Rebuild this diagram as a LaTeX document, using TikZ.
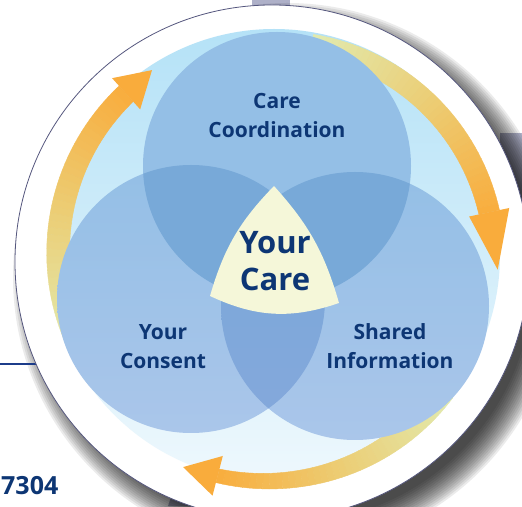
\documentclass[tikz,border=0pt]{standalone}
\usepackage{fontspec}
\setmainfont{Open Sans}
\usetikzlibrary{positioning,calc}
\definecolor{navy}{HTML}{0D3674}
\definecolor{ringline}{HTML}{55577E}
\definecolor{rule}{HTML}{1C3C8A}
\definecolor{barbg}{HTML}{AEB0C8}
\definecolor{skytop}{HTML}{B5E2F7}
\definecolor{skybottom}{HTML}{EEF8FD}
\definecolor{venn}{HTML}{94BFE6}
\definecolor{vennlow}{HTML}{AAC6EA}
\definecolor{lens}{HTML}{78A9D8}
\definecolor{lenslow}{HTML}{85A8DC}
\definecolor{cream}{HTML}{F5F7D9}
\definecolor{arrtail}{HTML}{E2EAAE}
\definecolor{arrmid}{HTML}{ECCD74}
\definecolor{arrhead}{HTML}{F9AC3C}

% curved arrow round the hub
% #1 tail angle, #2 head angle, #3 tip angle, #4 radius at tail,
% #5 radius at head, #6 half width at tail, #7 half width of head,
% #8 tip radius, #9 half width at head
\newcommand{\ringarrow}[9]{
  \foreach \i in {0,...,39}{
    \pgfmathsetmacro{\ta}{\i/40}
    \pgfmathsetmacro{\tb}{(\i+1)/40}
    \pgfmathsetmacro{\aa}{(#1)+((#2)-(#1))*\ta}
    \pgfmathsetmacro{\ab}{(#1)+((#2)-(#1))*\tb}
    \pgfmathsetmacro{\wa}{(#6)+((#9)-(#6))*\ta}
    \pgfmathsetmacro{\wb}{(#6)+((#9)-(#6))*\tb}
    \pgfmathsetmacro{\rai}{(#4)+((#5)-(#4))*\ta-\wa}
    \pgfmathsetmacro{\rao}{(#4)+((#5)-(#4))*\ta+\wa}
    \pgfmathsetmacro{\rbi}{(#4)+((#5)-(#4))*\tb-\wb}
    \pgfmathsetmacro{\rbo}{(#4)+((#5)-(#4))*\tb+\wb}
    \pgfmathtruncatemacro{\pc}{200*\ta}
    \ifnum\pc<100 \colorlet{seg}{arrmid!\pc!arrtail}
    \else \pgfmathtruncatemacro{\pd}{\pc-100}\colorlet{seg}{arrhead!\pd!arrmid}\fi
    \filldraw[seg, line width=0.4pt] (\aa:\rai) -- (\aa:\rao) -- (\ab:\rbo) -- (\ab:\rbi) -- cycle;
  }
  \pgfmathsetmacro{\hi}{(#5)-(#7)}
  \pgfmathsetmacro{\ho}{(#5)+(#7)}
  \fill[arrhead] (#2:\hi) -- (#2:\ho) -- (#3:#8) -- cycle;
}

\begin{document}
\begin{tikzpicture}[x=1pt, y=1pt,
    vennlabel/.style={text=navy, align=center, font=\bfseries\fontsize{21}{29}\selectfont},
    hublabel/.style={text=navy, align=center, font=\bfseries\fontsize{31}{37}\selectfont}]
    \useasboundingbox (0,0) rectangle (522,506);

    %--------------------------------------------
    % Centres
    \coordinate (ring) at (272,244);
    \coordinate (shadow) at (287,229);
    \coordinate (disk) at (274,251);
    \coordinate (hub) at (274,248);
    \coordinate (coord) at (277,340);
    \coordinate (consent) at (191,207);
    \coordinate (shared) at (355,200);

    %--------------------------------------------
    % Page behind and shadow
    \fill[barbg] (252,480) rectangle (290,506);
    \fill[barbg] (500,306) rectangle (522,373);
    \fill[barbg] (168,0) -- (215,0) -- (225,30) -- (178,30) -- cycle;
    \foreach \k in {0,...,14}
        \fill[black, opacity=0.08] (shadow) circle ({246+2*\k});
    \draw[rule, line width=2pt] (0,142) -- (40,142);

    %--------------------------------------------
    % Ring and disk
    \filldraw[fill=white, draw=ringline, line width=0.8pt] (ring) circle (257);
    \shade[top color=skytop, middle color=skytop!85!skybottom, bottom color=skybottom] (disk) circle (226);

    %--------------------------------------------
    % Arrows
    \begin{scope}[shift={(hub)}]
        \ringarrow{205}{132}{123}{213}{221}{12}{21}{224}{10.5}
        \ringarrow{80}{12}{-3}{216}{220}{11}{20.5}{224}{10.5}
        \ringarrow{-38}{-104.5}{-113.5}{216}{225}{11}{20.5}{228}{7}
    \end{scope}

    %--------------------------------------------
    % Venn circles
    \fill[venn] (coord) circle (134);
    \shade[top color=venn, bottom color=vennlow] (consent) circle (134);
    \shade[top color=venn, bottom color=vennlow] (shared) circle (134);
    \begin{scope}
        \clip (coord) circle (134);
        \fill[lens] (consent) circle (134);
        \fill[lens] (shared) circle (134);
    \end{scope}
    \begin{scope}
        \clip (consent) circle (134);
        \shade[top color=lens, bottom color=lenslow] (shared) circle (134);
    \end{scope}

    % Your care
    \fill[cream] (274,320) to[bend right=14] (210,210) to[bend right=22] (339,203) to[bend right=13] cycle;

    %--------------------------------------------
    % Labels
    \node[vennlabel] (coordtext) at ($(coord)+(0,50)$) {Care\\Coordination};
    \node[vennlabel] (consenttext) at ($(consent)+(-28,-47.5)$) {Your\\Consent};
    \node[vennlabel] (sharedtext) at ($(shared)+(35,-40.5)$) {Shared\\Information};
    \node[hublabel] (caretext) at (275,244.5) {Your\\Care};
    \node[anchor=west, inner sep=0pt, text=navy, font=\bfseries\fontsize{25}{30}\selectfont] (code) at (1,20) {7304};
\end{tikzpicture}
\end{document}
